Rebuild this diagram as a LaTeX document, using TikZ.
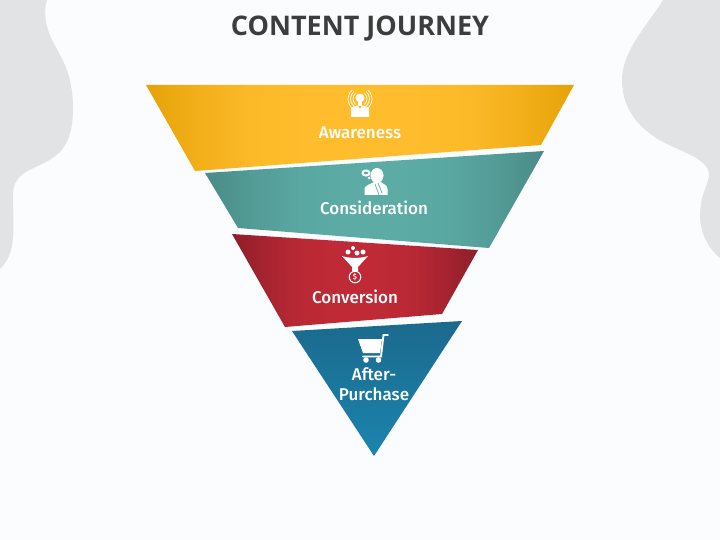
\documentclass[tikz,border=0pt]{standalone}
\usepackage{fontspec}
\setmainfont{Open Sans}
\newfontfamily\labelfont{Fira Sans Medium}
\usetikzlibrary{calc}
\definecolor{bgc}{HTML}{FBFCFE}
\definecolor{blobc}{HTML}{E2E3E5}
\definecolor{titlec}{HTML}{3D3D3D}
\definecolor{yA}{HTML}{E6A207}\definecolor{yB}{HTML}{FFBC2C}\colorlet{yM}{yA!50!yB}\colorlet{yN}{yA!12!yB}
\definecolor{tA}{HTML}{4A8B87}\definecolor{tB}{HTML}{5CABA5}\colorlet{tM}{tA!50!tB}\colorlet{tN}{tA!12!tB}
\definecolor{rA}{HTML}{8E1E2A}\definecolor{rB}{HTML}{BF2A36}\colorlet{rM}{rA!50!rB}\colorlet{rN}{rA!12!rB}
\definecolor{bA}{HTML}{1B6A8D}\definecolor{bB}{HTML}{1B84AD}
\pgfdeclarehorizontalshading{yband}{100bp}{color(0bp)=(yA); color(25bp)=(yA); color(31bp)=(yM); color(37bp)=(yN); color(44bp)=(yB); color(56bp)=(yB); color(63bp)=(yN); color(69bp)=(yM); color(75bp)=(yA); color(100bp)=(yA)}
\pgfdeclarehorizontalshading{tband}{100bp}{color(0bp)=(tA); color(25bp)=(tA); color(32bp)=(tM); color(39bp)=(tN); color(46bp)=(tB); color(54bp)=(tB); color(61bp)=(tN); color(68bp)=(tM); color(75bp)=(tA); color(100bp)=(tA)}
\pgfdeclarehorizontalshading{rband}{100bp}{color(0bp)=(rA); color(25bp)=(rA); color(32bp)=(rM); color(39bp)=(rN); color(46bp)=(rB); color(54bp)=(rB); color(61bp)=(rN); color(68bp)=(rM); color(75bp)=(rA); color(100bp)=(rA)}
\tikzset{
  x=1pt,y=-1pt,
  stagelabel/.style={text=white,font=\labelfont\fontsize{17}{20}\selectfont,align=center,inner sep=0pt},
  titletext/.style={text=titlec,font=\fontsize{27}{30}\selectfont\bfseries,inner sep=0pt},
  blob/.style={fill=blobc,draw=none},
  icon/.style={fill=white,draw=none},
  iconline/.style={draw=white,line width=.8pt,fill=none,line cap=round},
}
\begin{document}
\begin{tikzpicture}
\useasboundingbox (0,0) rectangle (720,540);
\fill[bgc] (0,0) rectangle (720,540);
% blobs
\path[blob] (0,0) -- (47,0) .. controls (43,12) and (46,28) .. (52,40)
  .. controls (60,56) and (73,72) .. (73,108)
  .. controls (73,145) and (60,155) .. (42,164)
  .. controls (30,170) and (13,174) .. (13,195)
  .. controls (13,215) and (15,235) .. (11,250)
  .. controls (9,258) and (4,265) .. (0,269) -- cycle;
\path[blob] (720,0) -- (663,0) .. controls (650,22) and (622,50) .. (622,80)
  .. controls (622,110) and (640,130) .. (665,143)
  .. controls (685,153) and (709,160) .. (709,175)
  .. controls (709,183) and (700,195) .. (700,215)
  .. controls (700,235) and (710,250) .. (720,258) -- cycle;
% title
\node[titletext] (title) at (360,29) {CONTENT JOURNEY};
% funnel bands
\path[shading=yband] (146,85) -- (574,85) -- (541,145) -- (195,171) -- cycle;
\path[shading=tband] (205,173) -- (544,151) -- (489,248) -- (238,228) -- cycle;
\path[shading=rband] (232,234) -- (478,250) -- (442,314) -- (285,327) -- cycle;
\path[top color=bA,bottom color=bB] (292,331) -- (462,321) -- (374,456) -- cycle;
% labels
\node[stagelabel] (aware) at (360,132.5) {Awareness};
\node[stagelabel] (consid) at (374,208) {Consideration};
\node[stagelabel] (conv) at (355,297) {Conversion};
\node[stagelabel] (after) at (374,384.5) {After-\\Purchase};
% icon: awareness
\begin{scope}[shift={(360,99)}]
  \fill[icon] (0,-1) circle (4.4);
  \fill[icon] (-2,2) rectangle (2,7);
  \fill[icon] (-9,18) -- (-9,10) .. controls (-9,7.5) and (-5,7.5) .. (-2.5,6.5) -- (0,10) -- (2.5,6.5) .. controls (5,7.5) and (9,7.5) .. (9,10) -- (9,18) -- cycle;
  \foreach \r in {7,9.5,12}{
    \draw[iconline,line width=.7pt] (50:\r) arc (50:-50:\r);
    \draw[iconline,line width=.7pt] (130:\r) arc (130:230:\r);
  }
\end{scope}
% icon: consideration
\begin{scope}[shift={(374,182)}]
  \fill[icon] (3,-6.5) ellipse (6.5 and 7.5);
  \fill[icon] (-9.5,13) -- (-9.5,6) .. controls (-8,3) and (-3,2) .. (0,0) -- (7,0) .. controls (9,2) and (13.5,3) .. (13.5,7) -- (13.5,13) -- cycle;
  \draw[draw=tB,line width=.7pt] (1,2) -- (5,13) (4,1) -- (8,11);
  \fill[icon] (-8,-9) ellipse (4.6 and 3.6);
  \fill[icon] (-5,-4) circle (1.5);
  \fill[tB] (-8,-9) ellipse (2.2 and 1.3);
\end{scope}
% icon: conversion
\begin{scope}[shift={(355,262)}]
  \fill[icon] (-13,-6) .. controls (-6,-3.5) and (6,-3.5) .. (13,-6) -- (3,5) -- (3,9) -- (-3,9) -- (-3,5) -- cycle;
  \foreach \p/\q/\r in {-7/-10/2.5,-2/-14/2,2/-9/2.5,8/-10/2.5}{\fill[icon] (\p,\q) circle (\r);}
  \draw[draw=white,line width=1pt,fill=rB] (0,15) circle (5.8);
  \node[text=white,font=\labelfont\fontsize{7.5}{8}\selectfont,inner sep=0pt] (dollar) at (0,15) {\$};
\end{scope}
% icon: cart
\begin{scope}[shift={(374,348)}]
  \fill[icon] (-16,-9) -- (8,-9) -- (6,5) -- (-11,5) -- cycle;
  \draw[iconline,line width=1.9pt] (14,-13) -- (9.5,-13) -- (7,8.5) -- (-11,8.5);
  \fill[icon] (-8,12) circle (2.8);
  \fill[icon] (4.5,12) circle (2.8);
\end{scope}
\end{tikzpicture}
\end{document}
